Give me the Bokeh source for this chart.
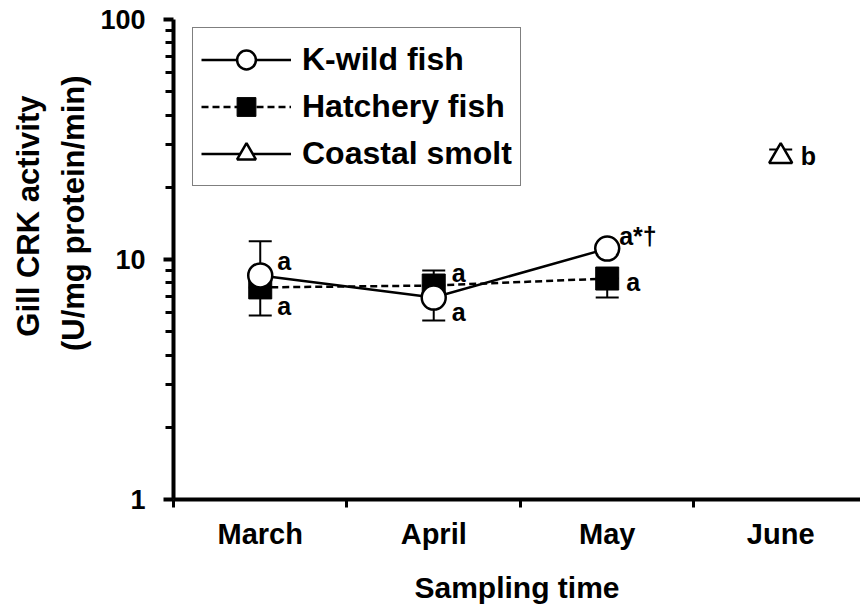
from bokeh.plotting import figure
from bokeh.models import (ColumnDataSource, FixedTicker, BasicTickFormatter,
                          CustomJSTickFormatter, Whisker, TeeHead, Legend, LegendItem,
                          Range1d, Title)
from bokeh.core.properties import value
from bokeh.embed import file_html
from bokeh.resources import INLINE

# Sampling months (categories on the x axis)
months = ["March", "April", "May", "June"]

# Gill CRK activity (U/mg protein/min), means and visible error-bar ends
kwild_mean = [8.58, 6.94, 11.1]
kwild_upper = [11.9, 6.94, 11.1]
kwild_lower = [8.58, 5.57, 11.1]
kwild_letters = ["a", "a", "a*\u2020"]

hatchery_mean = [7.65, 7.79, 8.33]
hatchery_upper = [7.65, 9.0, 8.33]
hatchery_lower = [5.84, 7.79, 6.94]
hatchery_letters = ["a", "a", "a"]

coastal_mean = [26.9]
coastal_upper = [28.7]
coastal_letters = ["b"]

y_major = [1, 10, 100]
y_minor = [2, 3, 4, 5, 6, 7, 8, 9, 20, 30, 40, 50, 60, 70, 80, 90]

y_title = ["Gill CRK activity", "(U/mg protein/min)"]
x_title = "Sampling time"

FONT = "Liberation Sans"

centers = [i + 0.5 for i in range(len(months))]
kx = centers[:len(kwild_mean)]
hx = centers[:len(hatchery_mean)]
cx = centers[3:3 + len(coastal_mean)]

k_src = ColumnDataSource(dict(x=kx, y=kwild_mean, up=kwild_upper, lo=kwild_lower,
                              t=kwild_letters,
                              dx=[17, 18, 12], dy=[-14, 14, -13]))
h_src = ColumnDataSource(dict(x=hx, y=hatchery_mean, up=hatchery_upper, lo=hatchery_lower,
                              t=hatchery_letters,
                              dx=[17, 18, 19], dy=[19, -13, 3]))
c_src = ColumnDataSource(dict(x=cx, y=coastal_mean, up=coastal_upper,
                              t=coastal_letters, dx=[20], dy=[0]))

p = figure(width=860, height=613, y_axis_type="log",
           x_range=Range1d(0, 3.96), y_range=Range1d(1, 100),
           output_backend="svg", toolbar_location=None,
           min_border_left=173, min_border_right=0,
           min_border_top=19, min_border_bottom=114)
p.outline_line_color = None
p.xgrid.visible = False
p.ygrid.visible = False
p.background_fill_color = "white"
p.border_fill_color = "white"


def tee():
    return TeeHead(size=23, line_color="black", line_width=2)


# Error bars (drawn beneath the markers)
for src in (h_src, k_src):
    p.add_layout(Whisker(source=src, base="x", upper="up", lower="lo",
                         line_color="black", line_width=2,
                         upper_head=tee(), lower_head=tee()))
p.add_layout(Whisker(source=c_src, base="x", upper="up", lower="y",
                     line_color="black", line_width=2,
                     upper_head=tee(), lower_head=None))

# Series lines
h_line = p.line("x", "y", source=h_src, line_color="black", line_width=2.5,
                line_dash="7 4")
k_line = p.line("x", "y", source=k_src, line_color="black", line_width=2.5)
c_line = p.line("x", "y", source=c_src, line_color="black", line_width=2.5)

# Markers
h_pts = p.scatter("x", "y", source=h_src, marker="square", size=23,
                  fill_color="black", line_color="black", line_width=1)
k_pts = p.scatter("x", "y", source=k_src, marker="circle", size=24,
                  fill_color="white", line_color="black", line_width=2.5)
c_pts = p.scatter("x", "y", source=c_src, marker="triangle", size=23,
                  fill_color="white", line_color="black", line_width=2.5)

# Significance letters
for src in (k_src, h_src, c_src):
    p.text("x", "y", text="t", source=src, x_offset="dx", y_offset="dy",
           text_font=value(FONT), text_font_style="bold", text_font_size="25px",
           text_color="black", text_baseline="alphabetic", text_align="left")

# Axes
yax = p.yaxis[0]
yax.ticker = FixedTicker(ticks=y_major, minor_ticks=y_minor)
yax.formatter = BasicTickFormatter()
yax.axis_line_width = 4
yax.major_tick_line_width = 4
yax.minor_tick_line_width = 3
yax.major_tick_in = 0
yax.minor_tick_in = 0
yax.major_tick_out = 10
yax.minor_tick_out = 8
yax.major_label_standoff = 18
yax.major_label_text_font = FONT
yax.major_label_text_font_style = "bold"
yax.major_label_text_font_size = "27px"
yax.major_label_text_color = "black"

# Two-line y title in the left panel, each line ending near the top
for text, gap, shift in zip(reversed(y_title), (14, 2), (56, 76)):
    p.add_layout(Title(text=text, align="right", offset=shift, standoff=gap,
                       text_font=FONT, text_font_style="bold",
                       text_font_size="31px", text_color="black"), "left")

xax = p.xaxis[0]
xax.ticker = FixedTicker(ticks=centers, minor_ticks=list(range(len(months))))
xax.formatter = CustomJSTickFormatter(args=dict(names=months),
                                      code="return names[Math.floor(tick)];")
xax.axis_line_width = 4
xax.major_tick_in = 0
xax.major_tick_out = 0
xax.minor_tick_in = 0
xax.minor_tick_out = 8
xax.minor_tick_line_width = 3
xax.major_label_standoff = 10
xax.major_label_text_font = FONT
xax.major_label_text_font_style = "bold"
xax.major_label_text_font_size = "29px"
xax.major_label_text_color = "black"
xax.axis_label = x_title
xax.axis_label_text_font = FONT
xax.axis_label_text_font_style = "bold"
xax.axis_label_text_font_size = "30px"
xax.axis_label_text_color = "black"
xax.axis_label_standoff = 18

legend = Legend(items=[
    LegendItem(label="K-wild fish", renderers=[k_line, k_pts]),
    LegendItem(label="Hatchery fish", renderers=[h_line, h_pts]),
    LegendItem(label="Coastal smolt", renderers=[c_line, c_pts]),
], location=(19, 313), glyph_width=90, glyph_height=47, spacing=0,
    padding=8, margin=0, label_standoff=11,
    label_text_font=FONT, label_text_font_style="bold",
    label_text_font_size="32px", label_text_color="black",
    label_height=47, border_line_color="black", border_line_width=1.5,
    background_fill_alpha=1.0)
p.add_layout(legend)

open("out.html", "w").write(file_html(p, INLINE))
